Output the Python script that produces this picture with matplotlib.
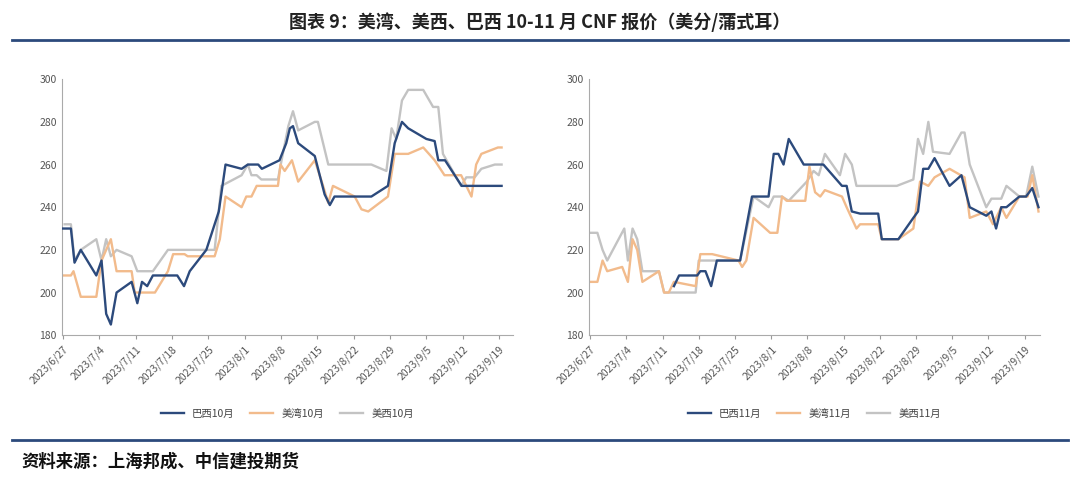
import matplotlib
matplotlib.use("Agg")
import matplotlib.pyplot as plt
import matplotlib.dates as mdates
import numpy as np
import datetime as dt

plt.rcParams["font.family"] = ["Noto Sans CJK SC"]

start = dt.date(2023, 6, 27)
tick_labels = ["2023/6/27","2023/7/4","2023/7/11","2023/7/18","2023/7/25","2023/8/1","2023/8/8",
               "2023/8/15","2023/8/22","2023/8/29","2023/9/5","2023/9/12","2023/9/19"]

# day offsets from 2023/6/27 and values (US cents/bushel)
br10_d = [0,1.5,2.2,3.4,6.4,7.4,8.3,9.2,10.3,13.2,14.3,15.2,16.2,17.3,22,23.3,24.4,27.6,30,31.3,34.4,35.6,37.6,38.3,41.7,43,43.7,44.3,45.3,48.5,50.4,51.4,52.3,59.4,62.6,63.9,65.3,66.5,70,71.6,72.3,73.6,76.8,84.5]
br10_v = [230,230,214,220,208,215,190,185,200,205,195,205,203,208,208,203,210,220,238,260,258,260,260,258,262,270,277,278,270,264,246,241,245,245,250,270,280,277,272,271,262,262,250,250]
gulf10_d = [0,1.5,2,3.4,6.4,7.4,9.2,10.3,13.2,13.8,17.7,20.2,21.2,23.4,24,27.6,29.2,30.2,31.3,34.4,35.3,36.3,37.3,41.4,41.9,42.7,44.1,45.3,48.5,50.1,51.1,52,56.2,57.5,58.8,62.6,63.9,66.5,69.4,71.6,73.5,76.7,77.7,78.7,79.6,80.6,83.8,84.5]
gulf10_v = [208,208,210,198,198,215,225,210,210,200,200,210,218,218,217,217,217,225,245,240,245,245,250,250,260,257,262,252,262,250,242,250,245,239,238,245,265,265,268,262,255,255,250,245,260,265,268,268]
west10_d = [0.3,1.5,2.2,3.4,6.4,7.4,8.3,9.2,10.3,13.2,14.3,17.3,20.2,27.6,29.2,30.5,34.4,35.6,36.3,37.3,38.2,41.4,42.1,43.4,44.3,45.3,48.5,49.1,51.1,59.4,62.3,63.3,64.2,65.3,66.5,69.4,71.3,72.3,73.2,76.7,77.7,79.3,80.6,83.2,84.5]
west10_v = [232,232,215,220,225,215,225,217,220,217,210,210,220,220,220,250,255,260,255,255,253,253,262,278,285,276,280,280,260,260,257,277,272,290,295,295,287,287,265,250,254,254,258,260,260]

br11_d = [16.2,17.2,20.7,21.3,22.3,23.4,24.5,29,31.3,34.5,35.5,36.4,37.4,38.4,41.3,45.1,48.7,49.6,50.6,52.2,55.7,56.4,59.6,62.5,63.4,64.4,65.4,66.6,69.5,71.8,73.4,76.6,77.6,78.5,79.5,80.5,83,84.3,85.5,86.7]
br11_v = [203,208,208,210,210,203,215,215,245,245,265,265,260,272,260,260,250,250,238,237,237,225,225,235,238,258,258,263,250,255,240,236,238,230,240,240,245,245,249,240]
gulf11_d = [0.1,1.4,2.4,3.3,6.2,7.3,8.2,9.1,10.1,13.3,14.3,15.2,16.2,20.4,21.3,23.6,28.7,29.4,30.2,31.6,34.8,36.2,37.1,38,41.6,42.4,43.5,44.5,45.4,48.7,49.6,51.5,52.2,55.7,56.4,59.6,62.5,63.8,65.4,66.6,69.5,72.4,73.4,76.6,77.9,79.5,80.5,83,84.6,85.5,86.7]
gulf11_v = [205,205,215,210,212,205,225,220,205,210,200,200,205,203,218,218,215,212,215,235,228,228,245,243,243,259,247,245,248,245,240,230,232,232,225,225,230,252,250,254,258,254,235,238,232,240,235,245,245,255,238]
west11_d = [0.1,1.4,2.4,3.3,6.6,7.3,8.2,9.1,10.1,13.3,14.3,20.4,21,24.5,29,31.6,34.5,35.5,37.1,38.4,41.9,43.2,44.2,45.4,48.3,49.3,50.6,51.5,59.3,62.5,63.4,64.4,65.4,66.3,69.5,71.8,72.4,73.4,76.6,77.6,79.5,80.5,83,84.3,85.5,86.7]
west11_v = [228,228,220,215,230,215,230,225,210,210,200,200,215,215,215,245,240,245,245,243,252,257,255,265,255,265,260,250,250,253,272,265,280,266,265,275,275,260,240,244,244,250,245,245,259,245]

C_BR, C_GULF, C_WEST = "#2c4a7c", "#f2bb8c", "#c3c3c3"

def todate(days):
    base = mdates.date2num(start)
    return [base + d for d in days]

fig = plt.figure(figsize=(10.8, 4.83), dpi=100)
fig.text(0.5, 0.955, "图表 9：美湾、美西、巴西 10-11 月 CNF 报价（美分/蒲式耳）",
         ha="center", va="center", fontsize=13, fontweight="bold", color="#222222")
fig.add_artist(plt.Line2D([0.011, 0.989], [0.917, 0.917], color="#2c4a7c", lw=2))
fig.add_artist(plt.Line2D([0.011, 0.989], [0.088, 0.088], color="#2c4a7c", lw=2))
fig.text(0.02, 0.045, "资料来源：上海邦成、中信建投期货", ha="left", va="center",
         fontsize=12.5, fontweight="bold", style="italic", color="#111111")

def panel(rect, series, labels, xmax):
    ax = fig.add_axes(rect)
    for (d, v), lab, c in zip(series, labels, [C_BR, C_GULF, C_WEST]):
        ax.plot(todate(d), v, color=c, lw=1.7, label=lab, zorder={C_BR:3, C_GULF:2, C_WEST:1}[c])
    base = mdates.date2num(start)
    ax.set_xlim(base - 0.3, base + xmax)
    ax.set_ylim(180, 300)
    ax.set_yticks(range(180, 301, 20))
    ax.set_xticks([base + 7 * i for i in range(len(tick_labels))])
    ax.set_xticklabels(tick_labels, rotation=45, ha="right", rotation_mode="anchor", fontsize=7.5, color="#555555")
    ax.tick_params(axis="y", labelsize=7.5, labelcolor="#555555", length=0)
    ax.tick_params(axis="x", length=3, color="#999999")
    for s in ["top", "right"]:
        ax.spines[s].set_visible(False)
    for s in ["left", "bottom"]:
        ax.spines[s].set_color("#aaaaaa")
    ax.legend(loc="upper center", bbox_to_anchor=(0.5, -0.25), ncol=3, frameon=False,
              fontsize=7.5, handlelength=2.2, columnspacing=1.5, labelcolor="#444444")
    return ax

panel([0.057, 0.306, 0.418, 0.53], [(br10_d, br10_v), (gulf10_d, gulf10_v), (west10_d, west10_v)],
      ["巴西10月", "美湾10月", "美西10月"], 86.7)
panel([0.545, 0.306, 0.418, 0.53], [(br11_d, br11_v), (gulf11_d, gulf11_v), (west11_d, west11_v)],
      ["巴西11月", "美湾11月", "美西11月"], 87.0)

fig.savefig("out.png", dpi=100)
